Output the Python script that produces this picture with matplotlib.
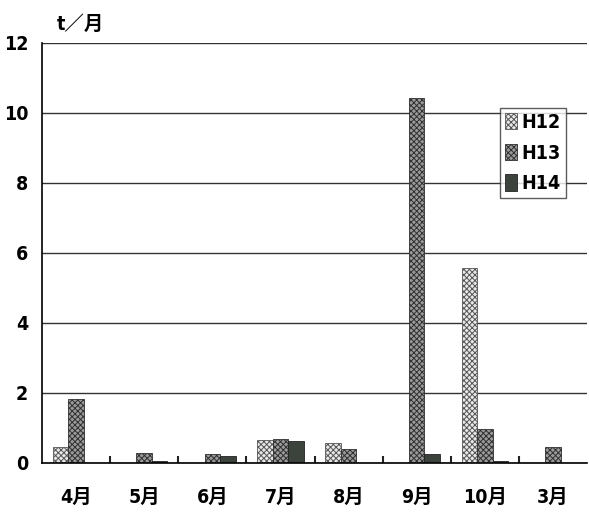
import matplotlib
matplotlib.use("Agg")
import matplotlib.pyplot as plt
import numpy as np

months = ["4月", "5月", "6月", "7月", "8月", "9月", "10月", "3月"]
series_names = ["H12", "H13", "H14"]
h12 = [0.45, 0.0, 0.0, 0.66, 0.58, 0.0, 5.57, 0.0]
h13 = [1.83, 0.29, 0.26, 0.69, 0.40, 10.43, 0.97, 0.46]
h14 = [0.0, 0.05, 0.20, 0.63, 0.0, 0.26, 0.05, 0.0]
yticks = [0, 2, 4, 6, 8, 10, 12]

fam = ["DejaVu Sans", "Noto Sans CJK JP"]
plt.rcParams["font.family"] = fam
plt.rcParams["font.stretch"] = "condensed"
plt.rcParams["hatch.linewidth"] = 0.7

fig = plt.figure(figsize=(5.89, 5.13), dpi=100)
ax = fig.add_axes([42/589, 1-463/513, 545/589, 420/513])

x = np.arange(len(months))
w = 0.228
styles = [
    dict(facecolor="#e8e8e8", edgecolor="#555555", hatch="xxxxxx"),
    dict(facecolor="#9a9a9a", edgecolor="#303030", hatch="xxxxxx"),
    dict(facecolor="#3c423c", edgecolor="#222222", hatch=None),
]
for i, (vals, st, name) in enumerate(zip([h12, h13, h14], styles, series_names)):
    ax.bar(x + (i - 1) * w, vals, width=w, label=name, linewidth=0.6, **st)

ax.set_xlim(-0.5, len(months) - 0.5)
ax.set_ylim(0, 12)
ax.set_yticks(yticks)
ax.set_yticklabels([str(v) for v in yticks], fontsize=14, fontweight="bold", fontstretch="condensed")
ax.tick_params(axis="y", length=0, pad=10)
ax.set_xticks(x)
ax.set_xticklabels(months, fontsize=14, fontweight="bold", fontstretch="condensed")
ax.tick_params(axis="x", length=0, pad=18)
ax.set_xticks(np.arange(0.5, len(months) - 0.5, 1), minor=True)
ax.tick_params(axis="x", which="minor", direction="in", length=5, width=1.5, color="#222222")

ax.grid(axis="y", color="#333333", linewidth=1.0)
ax.set_axisbelow(True)
for s in ["top", "right"]:
    ax.spines[s].set_visible(False)
ax.spines["left"].set_linewidth(1.2)
ax.spines["bottom"].set_linewidth(1.2)

fig.text(57/589, 1-24/513, "t／月", fontsize=14, fontweight="bold", fontstretch="condensed",
         va="center", ha="left")

leg = ax.legend(loc="upper left", bbox_to_anchor=(458/545, (463-108)/420), borderaxespad=0,
                frameon=True, fancybox=False, edgecolor="#333333", handlelength=0.6,
                handleheight=0.9, handletextpad=0.25, borderpad=0.25, labelspacing=0.6,
                prop=dict(family=fam, weight="bold", size=14, stretch="condensed"))
leg.get_frame().set_linewidth(1.0)

fig.savefig("out.png", dpi=100, facecolor="white")
